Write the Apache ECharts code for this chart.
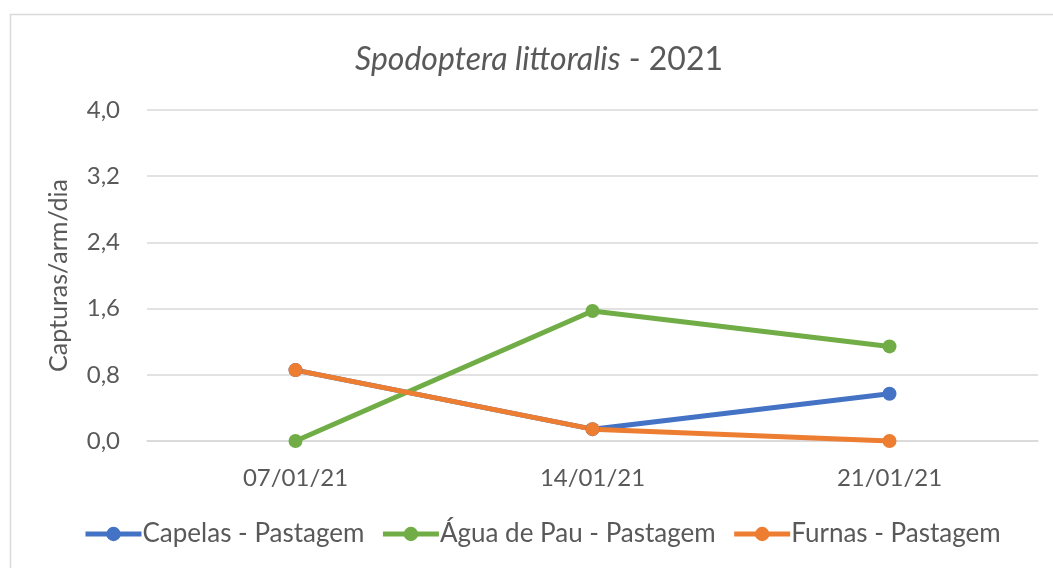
<!DOCTYPE html>
<html>
<head>
<meta charset="utf-8">
<script src="https://cdn.jsdelivr.net/npm/echarts@6/dist/echarts.min.js"></script>
<style>
  html, body { margin: 0; padding: 0; background: #fff; }
  #chart { width: 1053px; height: 568px; }
</style>
</head>
<body>
<div id="chart"></div>
<script>
// data
var dates = ['07/01/21', '14/01/21', '21/01/21']
var capelas = [0.857, 0.143, 0.571]
var aguaDePau = [0, 1.571, 1.143]
var furnas = [0.857, 0.143, 0]
var yTicks = [0, 0.8, 1.6, 2.4, 3.2, 4.0]

var textColor = '#595959'
var font = 'Lato'
var names = ['Capelas - Pastagem', 'Água de Pau - Pastagem', 'Furnas - Pastagem']
var colors = ['#4472c4', '#70ad47', '#ed7d31']

function line (i, data) {
  return {
    name: names[i],
    type: 'line',
    data: data,
    symbol: 'circle',
    symbolSize: 14,
    lineStyle: { width: 5, color: colors[i] },
    itemStyle: { color: colors[i] },
    emphasis: { disabled: true }
  }
}

var myChart = echarts.init(document.getElementById('chart'))
myChart.setOption({
  animation: false,
  textStyle: { fontFamily: font, color: textColor },
  graphic: [{
    type: 'rect',
    shape: { x: 10.5, y: 14.5, width: 1100, height: 700 },
    style: { fill: 'none', stroke: '#d9d9d9', lineWidth: 1.5 },
    silent: true
  }],
  title: {
    text: '{i|Spodoptera littoralis}{n| - 2021}',
    left: 350,
    top: 39,
    textStyle: {
      fontWeight: 'normal',
      rich: {
        i: { fontFamily: font, fontSize: 32, fontStyle: 'italic', fontWeight: 'normal', color: textColor },
        n: { fontFamily: font, fontSize: 32, fontWeight: 'normal', color: textColor }
      }
    }
  },
  legend: {
    bottom: 16,
    left: 78,
    itemWidth: 56,
    itemHeight: 18,
    itemGap: 16,
    textStyle: { fontFamily: font, fontSize: 26, color: textColor, padding: [0, 0, 0, -4] },
    data: names.map(function (n, i) {
      return { name: n, lineStyle: { width: 5, color: colors[i] }, itemStyle: { color: colors[i] } }
    })
  },
  grid: { left: 147, right: 15, top: 110, bottom: 127 },
  xAxis: {
    type: 'category',
    data: dates,
    axisLine: { show: true, lineStyle: { color: '#d9d9d9', width: 1.5 } },
    axisTick: { show: false },
    axisLabel: { fontSize: 24, color: textColor, margin: 25, fontFamily: font }
  },
  yAxis: {
    type: 'value',
    min: yTicks[0],
    max: yTicks[yTicks.length - 1],
    interval: 0.8,
    name: 'Capturas/arm/dia',
    nameLocation: 'middle',
    nameGap: 76,
    nameTextStyle: { fontSize: 25, color: textColor, fontFamily: font },
    axisLine: { show: false },
    axisTick: { show: false },
    splitLine: { lineStyle: { color: '#d9d9d9', width: 1.5 } },
    axisLabel: {
      fontSize: 24,
      color: textColor,
      margin: 27,
      fontFamily: font,
      formatter: function (v) { return v.toFixed(1).replace('.', ',') }
    }
  },
  series: [
    line(0, capelas),
    line(1, aguaDePau),
    line(2, furnas)
  ]
})
</script>
</body>
</html>
